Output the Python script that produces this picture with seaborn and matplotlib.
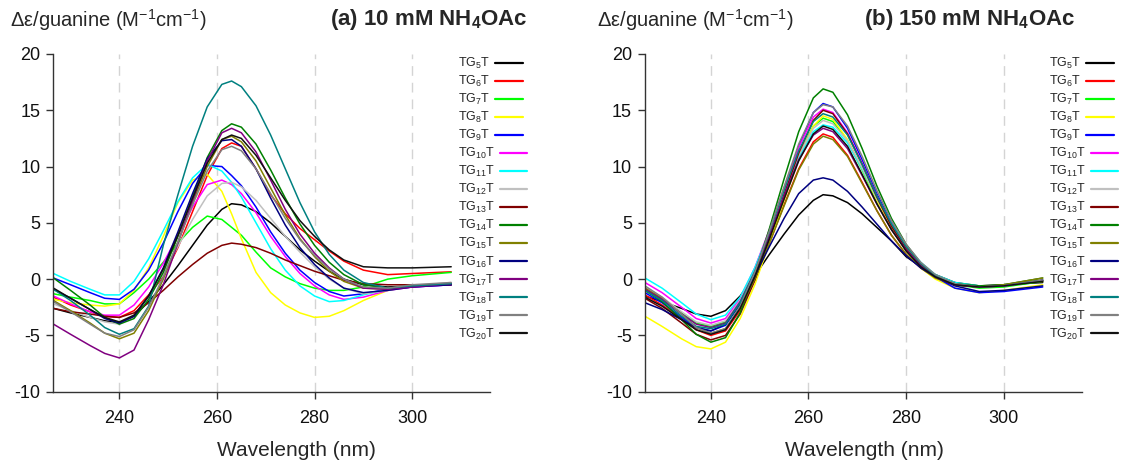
import matplotlib
matplotlib.use("Agg")
import matplotlib.pyplot as plt
import numpy as np
import pandas as pd
import seaborn as sns
from matplotlib.lines import Line2D


# wavelength grid (nm) shared by all spectra
wavelength = [226.5, 230, 234, 237, 240, 243, 246, 249, 252, 255, 258, 261, 263,
              265, 268, 271, 274, 277, 280, 283, 286, 290, 295, 300, 308]

samples = ["TG5T", "TG6T", "TG7T", "TG8T", "TG9T", "TG10T", "TG11T", "TG12T",
           "TG13T", "TG14T", "TG15T", "TG16T", "TG17T", "TG18T", "TG19T", "TG20T"]
legend_labels = [r"TG$_{%d}$T" % n for n in range(5, 21)]
line_colors = ["#000000", "#ff0000", "#00ff00", "#ffff00", "#0000ff", "#ff00ff",
               "#00ffff", "#c0c0c0", "#800000", "#008000", "#808000", "#000080",
               "#800080", "#008080", "#808080", "#111111"]

# (a) 10 mM NH4OAc
a_tg5 = [-2.6, -3.0, -3.4, -3.7, -3.9, -3.3, -2.0, -0.5, 1.2, 3.0, 4.8, 6.2, 6.7,
         6.6, 6.0, 5.0, 3.8, 2.6, 1.6, 0.7, 0.0, -0.5, -0.7, -0.6, -0.5]
a_tg6 = [-1.6, -2.3, -2.9, -3.3, -3.4, -2.8, -1.4, 0.2, 2.8, 6.0, 9.2, 11.6, 12.1,
         11.8, 9.8, 7.5, 5.8, 4.5, 3.5, 2.5, 1.6, 0.8, 0.4, 0.5, 0.65]
a_tg7 = [-1.3, -1.6, -1.9, -2.2, -2.2, -1.2, 0.0, 1.5, 3.2, 4.6, 5.6, 5.3, 4.6,
         3.9, 2.4, 1.0, 0.2, -0.4, -0.8, -1.0, -1.0, -0.7, 0.0, 0.3, 0.6]
a_tg8 = [-1.8, -2.1, -2.3, -2.4, -2.2, -1.0, 1.0, 3.8, 6.8, 8.8, 9.3, 7.8, 5.8,
         3.6, 0.6, -1.2, -2.3, -3.0, -3.4, -3.3, -2.8, -1.9, -1.0, -0.6, -0.4]
a_tg9 = [0.1, -0.5, -1.2, -1.7, -1.8, -0.9, 0.8, 3.2, 6.0, 8.5, 10.1, 10.0, 9.2,
         8.3, 6.4, 4.2, 2.3, 0.8, -0.3, -1.1, -1.5, -1.3, -0.9, -0.7, -0.5]
a_tg10 = [-1.5, -2.2, -2.9, -3.2, -3.2, -2.3, -0.7, 1.4, 3.9, 6.4, 8.4, 8.8, 8.4,
          7.6, 5.9, 3.8, 2.0, 0.5, -0.6, -1.4, -1.8, -1.6, -1.0, -0.7, -0.5]
a_tg11 = [0.5, -0.2, -0.9, -1.4, -1.4, -0.2, 1.8, 4.3, 6.9, 9.0, 10.2, 9.6, 8.6,
          7.3, 5.0, 2.7, 0.8, -0.6, -1.5, -2.0, -1.9, -1.4, -0.9, -0.6, -0.4]
a_tg12 = [-2.2, -2.8, -3.4, -3.8, -4.0, -3.2, -1.6, 0.5, 2.9, 5.3, 7.4, 8.5, 8.6,
          8.2, 7.0, 5.4, 3.8, 2.4, 1.1, 0.0, -0.8, -1.3, -1.0, -0.6, -0.3]
a_tg13 = [-2.6, -2.9, -3.1, -3.3, -3.4, -3.0, -2.1, -1.0, 0.2, 1.3, 2.3, 3.0, 3.2,
          3.1, 2.8, 2.3, 1.7, 1.2, 0.7, 0.3, -0.1, -0.4, -0.5, -0.5, -0.5]
a_tg14 = [0.1, -1.0, -2.3, -3.4, -4.0, -3.5, -1.8, 0.6, 3.8, 7.3, 10.8, 13.2, 13.8,
          13.5, 12.0, 9.7, 7.2, 4.9, 3.0, 1.5, 0.4, -0.5, -0.8, -0.6, -0.4]
a_tg15 = [-1.9, -2.8, -3.9, -4.8, -5.3, -4.8, -2.8, 0.0, 3.3, 6.8, 10.0, 12.4, 12.7,
          12.2, 10.5, 8.1, 5.7, 3.6, 2.0, 0.7, -0.2, -0.8, -0.9, -0.6, -0.4]
a_tg16 = [-0.9, -1.7, -2.7, -3.5, -3.9, -3.3, -1.5, 1.0, 4.2, 7.6, 10.7, 12.3, 12.4,
          11.8, 9.8, 7.2, 4.8, 2.8, 1.3, 0.1, -0.8, -1.2, -1.0, -0.7, -0.5]
a_tg17 = [-4.0, -4.9, -5.9, -6.6, -7.0, -6.3, -3.6, -0.5, 3.2, 7.0, 10.5, 13.0, 13.4,
          13.0, 11.3, 8.8, 6.2, 4.0, 2.3, 1.0, 0.0, -0.8, -0.9, -0.7, -0.4]
a_tg18 = [-0.9, -1.9, -3.2, -4.3, -4.9, -4.4, -2.4, 3.0, 7.5, 11.8, 15.3, 17.3, 17.6,
          17.1, 15.4, 12.8, 9.8, 6.8, 4.2, 2.2, 0.8, -0.3, -0.8, -0.6, -0.4]
a_tg19 = [-2.0, -2.9, -4.0, -4.8, -5.1, -4.5, -2.5, 0.2, 3.3, 6.6, 9.6, 11.5, 11.8,
          11.4, 9.8, 7.6, 5.4, 3.5, 2.1, 0.9, 0.0, -0.7, -0.8, -0.5, -0.3]
a_tg20 = [-0.8, -1.7, -2.7, -3.4, -3.8, -3.2, -1.5, 0.9, 3.9, 7.2, 10.3, 12.4, 12.8,
          12.5, 11.0, 9.0, 7.0, 5.2, 3.8, 2.6, 1.7, 1.1, 1.0, 1.0, 1.1]

# (b) 150 mM NH4OAc
b_tg5 = [-1.5, -2.0, -2.6, -3.1, -3.3, -2.8, -1.5, 0.3, 2.2, 4.0, 5.7, 7.0, 7.5,
         7.4, 6.8, 5.8, 4.6, 3.4, 2.0, 1.1, 0.4, -0.3, -0.6, -0.5, -0.3]
b_tg6 = [-1.4, -2.3, -3.5, -4.5, -5.0, -4.6, -2.8, -0.1, 3.2, 6.6, 9.8, 12.2, 12.9,
         12.6, 11.0, 8.6, 6.1, 3.9, 2.2, 1.0, 0.1, -0.5, -0.7, -0.6, -0.2]
b_tg7 = [-0.9, -1.8, -3.0, -3.9, -4.2, -3.8, -2.0, 0.5, 3.8, 7.4, 10.9, 13.6, 14.3,
         14.0, 12.3, 9.7, 6.9, 4.5, 2.6, 1.2, 0.2, -0.5, -0.8, -0.7, -0.2]
b_tg8 = [-3.3, -4.2, -5.3, -6.0, -6.2, -5.6, -3.5, -0.5, 3.2, 7.0, 10.7, 13.6, 14.5,
         14.2, 12.4, 9.8, 7.0, 4.5, 2.5, 1.0, 0.0, -0.8, -1.2, -1.0, -0.5]
b_tg9 = [-1.2, -2.1, -3.4, -4.3, -4.6, -4.1, -2.2, 0.6, 4.1, 8.0, 11.8, 14.8, 15.6,
         15.3, 13.4, 10.6, 7.6, 5.0, 2.9, 1.3, 0.2, -0.8, -1.2, -1.1, -0.7]
b_tg10 = [-0.3, -1.2, -2.5, -3.5, -3.9, -3.5, -1.7, 1.0, 4.4, 8.1, 11.7, 14.4, 15.1,
          14.8, 13.0, 10.3, 7.4, 4.8, 2.8, 1.3, 0.3, -0.4, -0.7, -0.6, -0.1]
b_tg11 = [0.1, -0.8, -2.1, -3.1, -3.6, -3.2, -1.6, 1.0, 4.2, 7.6, 10.8, 13.1, 13.7,
          13.5, 12.1, 9.8, 7.2, 4.9, 3.0, 1.5, 0.4, -0.3, -0.6, -0.6, -0.1]
b_tg12 = [-0.7, -1.6, -2.9, -3.8, -4.1, -3.7, -1.9, 0.7, 4.0, 7.6, 11.0, 13.4, 14.1,
          13.8, 12.3, 9.9, 7.2, 4.8, 2.8, 1.3, 0.3, -0.4, -0.7, -0.6, -0.1]
b_tg13 = [-1.7, -2.6, -3.9, -4.9, -5.4, -5.0, -3.1, -0.1, 3.6, 7.5, 11.2, 14.1, 15.0,
          14.7, 12.9, 10.2, 7.3, 4.7, 2.7, 1.2, 0.2, -0.5, -0.7, -0.6, -0.1]
b_tg14 = [-1.0, -2.0, -3.6, -4.9, -5.6, -5.2, -3.0, 0.4, 4.5, 8.9, 13.1, 16.1, 16.9,
          16.6, 14.6, 11.6, 8.3, 5.4, 3.1, 1.4, 0.3, -0.4, -0.6, -0.5, 0.1]
b_tg15 = [-0.8, -1.7, -3.1, -4.3, -4.8, -4.4, -2.6, 0.0, 3.2, 6.5, 9.7, 12.0, 12.7,
          12.4, 10.9, 8.5, 6.1, 3.9, 2.2, 1.0, 0.1, -0.5, -0.7, -0.5, 0.1]
b_tg16 = [-2.1, -2.7, -3.6, -4.3, -4.6, -4.0, -2.2, 0.3, 2.9, 5.4, 7.6, 8.8, 9.0,
          8.8, 7.8, 6.4, 4.9, 3.4, 2.1, 1.0, 0.2, -0.6, -1.1, -1.0, -0.6]
b_tg17 = [-0.9, -1.8, -3.1, -4.0, -4.3, -3.9, -2.0, 0.6, 3.9, 7.4, 10.6, 12.8, 13.4,
          13.1, 11.6, 9.2, 6.7, 4.4, 2.6, 1.2, 0.2, -0.5, -0.7, -0.6, -0.1]
b_tg18 = [-1.0, -1.9, -3.3, -4.2, -4.4, -4.0, -2.1, 0.7, 4.2, 7.9, 11.4, 14.0, 14.7,
          14.4, 12.8, 10.2, 7.4, 4.9, 2.9, 1.4, 0.3, -0.4, -0.7, -0.6, -0.1]
b_tg19 = [-0.6, -1.6, -3.1, -4.3, -4.8, -4.4, -2.4, 0.6, 4.3, 8.2, 12.0, 14.8, 15.5,
          15.3, 13.6, 10.9, 7.9, 5.2, 3.1, 1.5, 0.4, -0.4, -0.7, -0.6, -0.1]
b_tg20 = [-1.6, -2.4, -3.6, -4.5, -4.9, -4.5, -2.6, 0.2, 3.6, 7.1, 10.5, 12.9, 13.6,
          13.3, 11.8, 9.3, 6.7, 4.4, 2.5, 1.1, 0.2, -0.5, -0.7, -0.6, -0.2]

panel_a = [a_tg5, a_tg6, a_tg7, a_tg8, a_tg9, a_tg10, a_tg11, a_tg12,
           a_tg13, a_tg14, a_tg15, a_tg16, a_tg17, a_tg18, a_tg19, a_tg20]
panel_b = [b_tg5, b_tg6, b_tg7, b_tg8, b_tg9, b_tg10, b_tg11, b_tg12,
           b_tg13, b_tg14, b_tg15, b_tg16, b_tg17, b_tg18, b_tg19, b_tg20]


def to_long(series):
    rows = []
    for name, values in zip(samples, series):
        for w, v in zip(wavelength, values):
            rows.append((name, w, v))
    return pd.DataFrame(rows, columns=["sample", "wavelength", "de"])


sns.set_style("ticks")
plt.rcParams["font.family"] = ["Liberation Sans", "DejaVu Sans"]
plt.rcParams["mathtext.default"] = "regular"
plt.rcParams["axes.unicode_minus"] = False

palette = dict(zip(samples, line_colors))

fig = plt.figure(figsize=(11.32, 4.62), dpi=100)
W, H = 1132.0, 462.0

panels = [
    dict(data=panel_a, left=53, title="(a) 10 mM NH$_4$OAc", ylab_x=10,
         title_right=528, leg_x=458, xlab=0.556),
    dict(data=panel_b, left=644.5, title="(b) 150 mM NH$_4$OAc", ylab_x=597,
         title_right=1075, leg_x=1049, xlab=0.502),
]

xmin, xmax = 226.4, 316
ax_w = (xmax - xmin) * 4.88

for p in panels:
    ax = fig.add_axes([p["left"] / W, 70.3 / H, ax_w / W, 337.7 / H])
    df = to_long(p["data"])
    sns.lineplot(data=df, x="wavelength", y="de", hue="sample", hue_order=samples,
                 palette=palette, linewidth=1.1, legend=False, errorbar=None,
                 ax=ax)
    ax.set_xlim(xmin, xmax)
    ax.set_ylim(-10, 20)
    ax.set_xticks([240, 260, 280, 300])
    ax.set_yticks(np.arange(-10, 21, 5))
    for g in [240, 260, 280, 300]:
        ax.axvline(g, color="#d4d4d4", lw=1, dashes=(7, 5), zorder=0)
    sns.despine(ax=ax)
    for s in ["left", "bottom"]:
        ax.spines[s].set_color("#333333")
        ax.spines[s].set_linewidth(1)
    ax.tick_params(axis="both", direction="out", length=5, width=1,
                   color="#333333", labelsize=13, labelcolor="#111111")
    ax.tick_params(axis="x", pad=8)
    ax.tick_params(axis="y", pad=4)
    ax.set_ylabel("")
    ax.set_xlabel("Wavelength (nm)", fontsize=15)
    ax.xaxis.set_label_coords(p["xlab"], -0.145)

    handles = [Line2D([], [], color=c, lw=1.6) for c in line_colors]
    leg = ax.legend(handles, legend_labels, loc="upper left",
                    bbox_to_anchor=(p["leg_x"] / W, (H - 56) / H),
                    bbox_transform=fig.transFigure, frameon=False,
                    markerfirst=False, fontsize=9, handlelength=2.2,
                    handletextpad=0.4, labelspacing=0.235, borderpad=0,
                    borderaxespad=0)
    # text first, line after it, rows left aligned
    for col in leg._legend_handle_box.get_children():
        col.align = "left"

    fig.text(p["ylab_x"] / W, (H - 20) / H,
             "\u0394\u03b5/guanine (M$^{-1}$cm$^{-1}$)", fontsize=14.5,
             ha="left", va="center")
    fig.text(p["title_right"] / W, (H - 20) / H, p["title"], fontsize=16,
             fontweight="bold", ha="right", va="center")

fig.savefig("out.png", dpi=100)
